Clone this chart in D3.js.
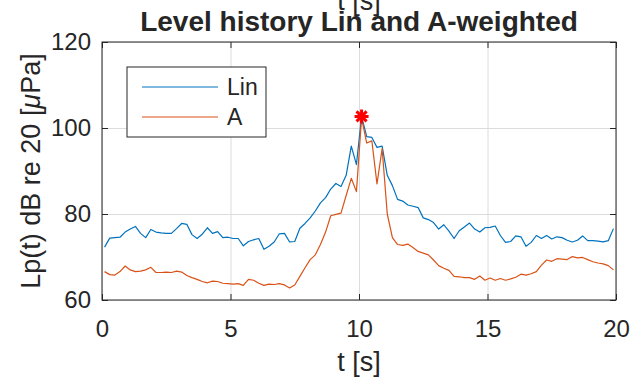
<!DOCTYPE html>
<html>
<head>
<meta charset="utf-8">
<script src="https://cdn.jsdelivr.net/npm/d3@7"></script>
<style>
  html, body { margin: 0; padding: 0; background: #fff; }
  text { font-family: "Liberation Sans", Arial, Helvetica, sans-serif; fill: #262626; }
</style>
</head>
<body>
<svg id="chart" width="631" height="383"></svg>
<script>
// Sampling of the level history: one value every 0.2 s, starting at 0.1 s
const timeStart = 0.1;
const timeStep = 0.2;

// Lin (unweighted) level, dB re 20 µPa
const levelLin = [
  72.3, 74.4, 74.5, 74.6, 75.8, 76.5, 77.1, 75.5, 74.5, 76.4,
  75.8, 75.6, 75.5, 75.5, 76.6, 77.8, 77.6, 75.2, 74.3, 75.3,
  76.8, 75.5, 75.9, 74.5, 74.6, 74.3, 74.3, 72.6, 73.6, 74.0,
  74.3, 71.8, 72.5, 73.5, 75.4, 75.5, 73.5, 73.6, 76.7, 77.8,
  79.1, 80.7, 82.6, 83.8, 85.8, 87.1, 86.4, 89.0, 95.8, 91.5,
  102.7, 98.0, 97.8, 95.5, 95.8, 89.0, 86.6, 83.4, 83.0, 82.1,
  81.8, 81.5, 79.1, 78.7, 78.0, 76.5, 77.5, 76.0, 74.3, 76.1,
  77.0, 77.9, 76.5, 75.8, 76.8, 76.9, 77.2, 75.0, 73.4, 73.6,
  74.9, 74.7, 72.5, 73.4, 75.0, 74.3, 75.0, 74.2, 74.7, 74.5,
  73.9, 73.5, 73.9, 74.9, 73.8, 73.8, 73.7, 73.5, 73.8, 76.6
];

// A-weighted level, dB re 20 µPa
const levelA = [
  66.6, 65.9, 65.8, 66.6, 67.9, 67.0, 66.6, 66.7, 67.0, 67.6,
  66.4, 66.4, 66.5, 66.4, 66.7, 66.5, 65.7, 65.2, 64.8, 64.3,
  64.0, 64.4, 64.3, 63.9, 63.8, 63.7, 63.8, 63.4, 64.8, 64.6,
  63.9, 63.4, 63.7, 63.6, 63.8, 63.5, 62.8, 63.5, 65.5, 67.5,
  69.4, 70.5, 72.9, 75.8, 79.6, 79.9, 80.2, 84.3, 88.3, 85.2,
  102.3, 96.5, 97.0, 87.0, 95.2, 80.0, 74.5, 72.9, 72.7, 73.0,
  72.2, 71.3, 70.9, 70.5, 69.3, 68.0, 67.4, 66.9, 65.5, 65.4,
  65.2, 65.2, 64.8, 65.6, 64.6, 65.1, 64.6, 65.0, 64.6, 64.9,
  65.3, 66.0, 65.8, 66.1, 66.6, 68.1, 69.3, 69.0, 69.6, 69.5,
  69.4, 70.1, 69.8, 69.9, 69.4, 68.9, 68.6, 68.4, 68.0, 67.0
];

const xTicks = [0, 5, 10, 15, 20];
const yTicks = [60, 80, 100, 120];
const seriesNames = ["Lin", "A"];
const seriesColors = ["#0072BD", "#D95319"];

const times = levelLin.map((_, i) => timeStart + i * timeStep);

const W = 631, H = 383;
const margin = { top: 42, right: 15, bottom: 83, left: 102 };
const innerW = W - margin.left - margin.right;
const innerH = H - margin.top - margin.bottom;

const svg = d3.select("#chart");
const g = svg.append("g").attr("transform", `translate(${margin.left},${margin.top})`);

const x = d3.scaleLinear().domain([0, 20]).range([0, innerW]);
const y = d3.scaleLinear().domain([60, 120]).range([innerH, 0]);

// grid
g.append("g")
  .attr("transform", `translate(0,${innerH})`)
  .call(d3.axisBottom(x).tickValues(xTicks).tickSize(-innerH).tickFormat(""))
  .call(a => a.select(".domain").remove())
  .call(a => a.selectAll("line").attr("stroke", "#dcdcdc").attr("stroke-width", 1));
g.append("g")
  .call(d3.axisLeft(y).tickValues(yTicks).tickSize(-innerW).tickFormat(""))
  .call(a => a.select(".domain").remove())
  .call(a => a.selectAll("line").attr("stroke", "#dcdcdc").attr("stroke-width", 1));

// level curves
const series = [levelLin, levelA];
const line = d3.line().x((d, i) => x(times[i])).y(d => y(d));
series.forEach((vals, k) => {
  g.append("path")
    .datum(vals)
    .attr("fill", "none")
    .attr("stroke", seriesColors[k])
    .attr("stroke-width", 1.2)
    .attr("stroke-linejoin", "round")
    .attr("d", line);
});

// peak marker (asterisk) at the maximum Lin level
const iMax = d3.maxIndex(levelLin);
const px = x(times[iMax]), py = y(levelLin[iMax]);
const r = 7, rd = r * 0.72;
g.append("path")
  .attr("d", `M${px - r},${py}L${px + r},${py}M${px},${py - r}L${px},${py + r}` +
             `M${px - rd},${py - rd}L${px + rd},${py + rd}M${px - rd},${py + rd}L${px + rd},${py - rd}`)
  .attr("stroke", "#ff0000")
  .attr("stroke-width", 3)
  .attr("fill", "none");

// axes box and inward ticks
const tickFont = 24;
const axB = g.append("g").attr("transform", `translate(0,${innerH})`)
  .call(d3.axisBottom(x).tickValues(xTicks).tickSize(-6).tickPadding(20).tickFormat(d3.format("d")));
const axL = g.append("g")
  .call(d3.axisLeft(y).tickValues(yTicks).tickSize(-6).tickPadding(11).tickFormat(d3.format("d")));
const axT = g.append("g")
  .call(d3.axisTop(x).tickValues(xTicks).tickSize(-6).tickFormat(""));
const axR = g.append("g").attr("transform", `translate(${innerW},0)`)
  .call(d3.axisRight(y).tickValues(yTicks).tickSize(-6).tickFormat(""));
[axB, axL, axT, axR].forEach(a => {
  a.select(".domain").remove();
  a.selectAll("line").attr("stroke", "#262626");
  a.selectAll("text").attr("font-size", tickFont).attr("fill", "#262626")
    .attr("font-family", "'Liberation Sans', Arial, sans-serif");
});
g.append("rect")
  .attr("width", innerW).attr("height", innerH)
  .attr("fill", "none").attr("stroke", "#262626").attr("stroke-width", 1);

// axis labels
svg.append("text")
  .attr("x", margin.left + innerW / 2).attr("y", 371)
  .attr("text-anchor", "middle").attr("font-size", 27)
  .text("t [s]");
svg.append("text")
  .attr("x", margin.left + innerW / 2).attr("y", 10)
  .attr("text-anchor", "middle").attr("font-size", 27)
  .text("t [s]");

const yl = svg.append("text")
  .attr("transform", `translate(40,${margin.top + innerH / 2}) rotate(-90)`)
  .attr("text-anchor", "middle").attr("font-size", 27);
yl.append("tspan").text("Lp(t) dB re 20 [");
yl.append("tspan").attr("font-style", "italic").text("\u03bc");
yl.append("tspan").text("Pa]");

// title
svg.append("text")
  .attr("x", margin.left + innerW / 2).attr("y", 31)
  .attr("text-anchor", "middle").attr("font-size", 28).attr("font-weight", "bold")
  .attr("fill", "#000")
  .text("Level history Lin and A-weighted");

// legend
const lg = svg.append("g").attr("transform", "translate(127,67)");
lg.append("rect").attr("width", 139).attr("height", 70)
  .attr("fill", "#fff").attr("stroke", "#262626").attr("stroke-width", 1);
seriesNames.forEach((name, k) => {
  const yy = 20 + k * 30;
  lg.append("line").attr("x1", 15).attr("x2", 91).attr("y1", yy).attr("y2", yy)
    .attr("stroke", seriesColors[k]).attr("stroke-width", 1.2);
  lg.append("text").attr("x", 100).attr("y", yy + 8).attr("font-size", 23).text(name);
});
</script>
</body>
</html>
